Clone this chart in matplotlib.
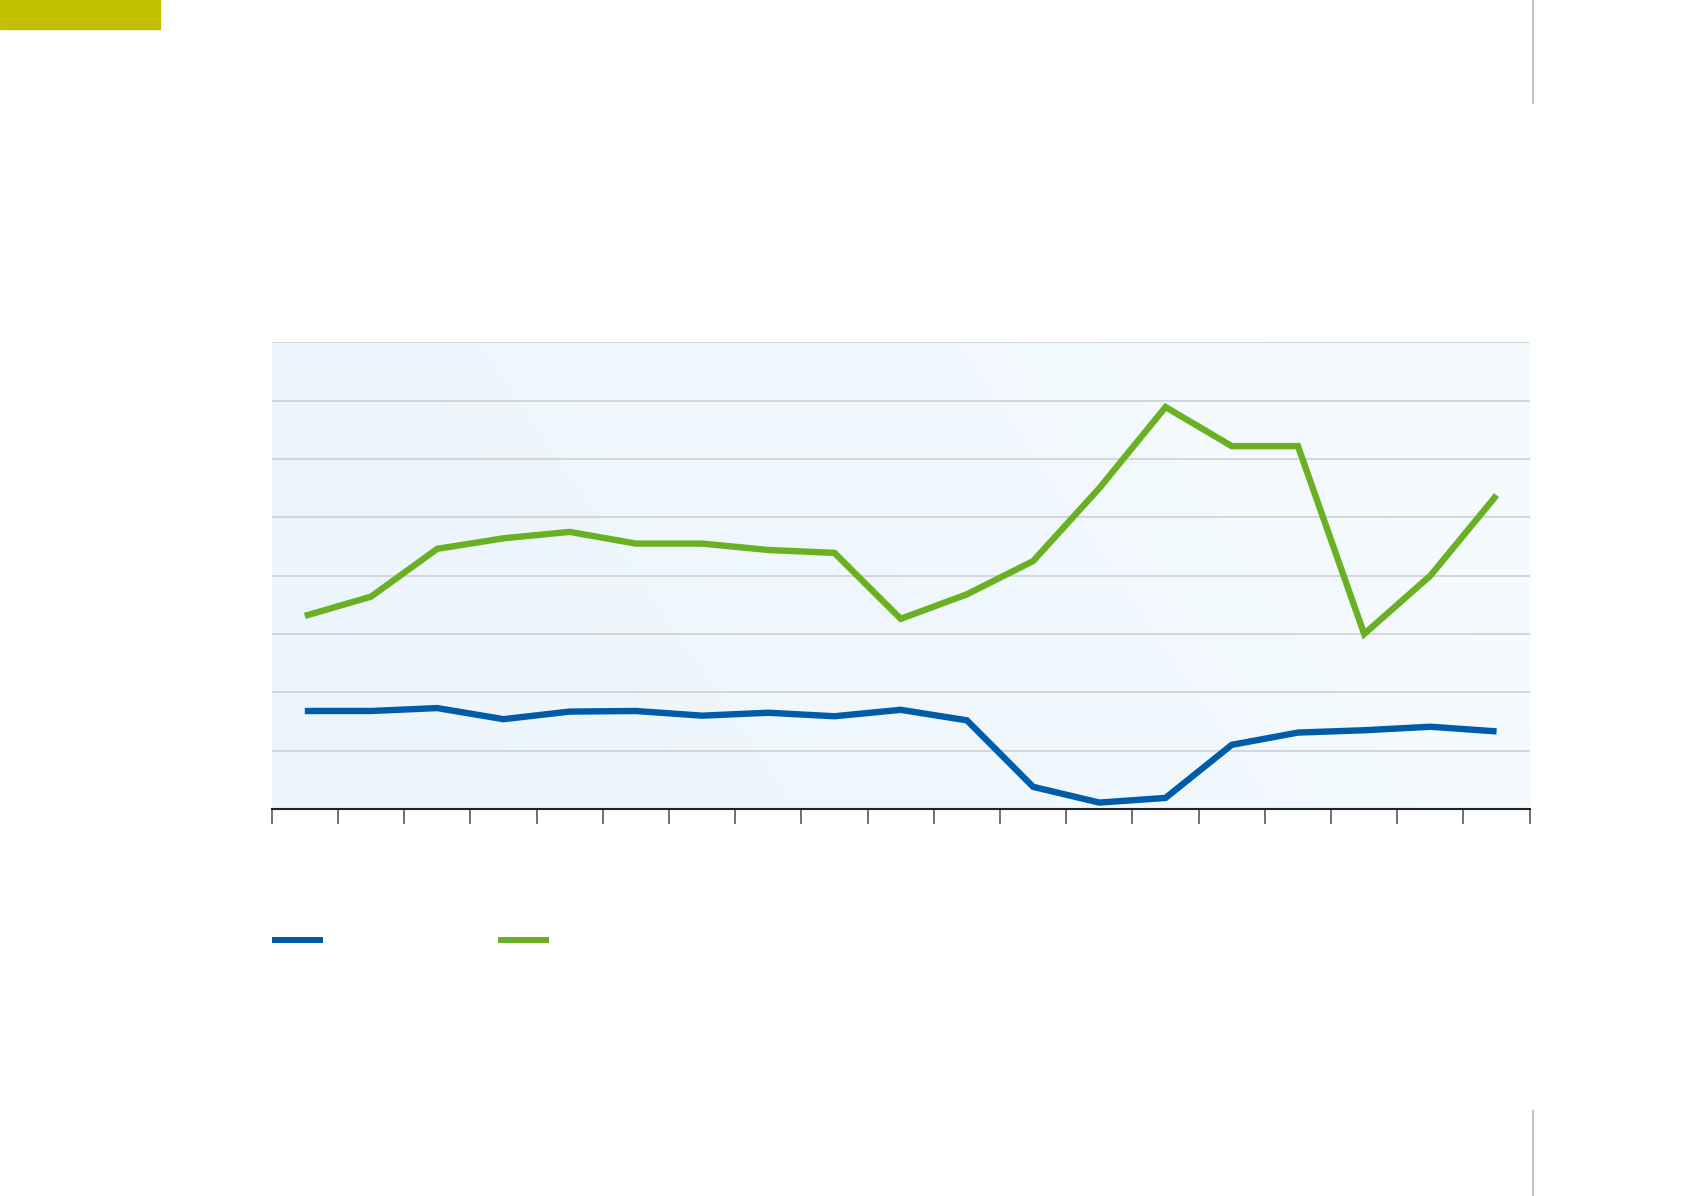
import numpy as np
import matplotlib
matplotlib.use('Agg')
import matplotlib.pyplot as plt
from matplotlib.lines import Line2D
from matplotlib.patches import Rectangle

# values, in units of one gridline step (0..8)
periods = list(range(1, 20))
blue_values = [1.68, 1.68, 1.73, 1.54, 1.67, 1.68, 1.60, 1.65, 1.59, 1.70,
               1.52, 0.38, 0.11, 0.19, 1.10, 1.31, 1.35, 1.41, 1.33]
green_values = [3.31, 3.64, 4.46, 4.64, 4.75, 4.55, 4.55, 4.44, 4.39, 3.26,
                3.68, 4.25, 5.50, 6.89, 6.22, 6.22, 3.00, 4.00, 5.38]
y_gridlines = list(range(0, 9))

BLUE = '#005ca9'
GREEN = '#6ab023'
W, H = 1692, 1196

fig = plt.figure(figsize=(W / 100, H / 100), dpi=100, facecolor='white')
ax = fig.add_axes([271.7 / W, (H - 809) / H, 1258 / W, (809 - 342.3) / H])

# soft blue background, lighter to the right
gx = np.linspace(0, 1, 256)
gy = np.linspace(0, 1, 64)
GX, GY = np.meshgrid(gx, gy)
t = np.clip(0.8 * GX + 0.2 * GY, 0, 1)
c0 = np.array([0xeb, 0xf5, 0xfc]) / 255
c1 = np.array([0xf6, 0xfb, 0xfe]) / 255
grad = c0[None, None, :] * (1 - t[..., None]) + c1[None, None, :] * t[..., None]
ax.imshow(grad, extent=[0, 1, 0, 1], transform=ax.transAxes, aspect='auto',
          zorder=0, origin='lower', interpolation='bilinear')

for g in y_gridlines[1:]:
    ax.axhline(g, color='#cdd1d5', lw=1.2, zorder=1)

ax.plot(periods, blue_values, color=BLUE, lw=4.6, solid_joinstyle='miter',
        solid_capstyle='butt', zorder=3)
ax.plot(periods, green_values, color=GREEN, lw=4.6, solid_joinstyle='miter',
        solid_capstyle='butt', zorder=3)

ax.set_xlim(0.5, 19.5)
ax.set_ylim(0, 8)
ax.set_xticks(np.arange(0.5, 20, 1))
ax.set_xticklabels([])
ax.set_yticks([])
ax.tick_params(axis='x', length=11, width=1.3, color='#666666', direction='out')
for s in ['left', 'right', 'top']:
    ax.spines[s].set_visible(False)
ax.spines['bottom'].set_color('#222222')
ax.spines['bottom'].set_linewidth(1.5)
ax.spines['bottom'].set_zorder(4)

# legend swatches (labels absent in the reference)
fig.add_artist(Line2D([272 / W, 323 / W], [1 - 940 / H] * 2, color=BLUE, lw=4.3,
                      solid_capstyle='butt'))
fig.add_artist(Line2D([498 / W, 549 / W], [1 - 940 / H] * 2, color=GREEN, lw=4.3,
                      solid_capstyle='butt'))

# page decorations
fig.add_artist(Rectangle((0, 1 - 29 / H), 160 / W, 29 / H, color='#c1bf00',
                         transform=fig.transFigure))
fig.add_artist(Line2D([1533 / W] * 2, [1, 1 - 103 / H], color='#c4c4c8', lw=1.5))
fig.add_artist(Line2D([1533 / W] * 2, [1 - 1111 / H, 0], color='#c4c4c8', lw=1.5))

fig.savefig('out.png', dpi=100, facecolor='white')
